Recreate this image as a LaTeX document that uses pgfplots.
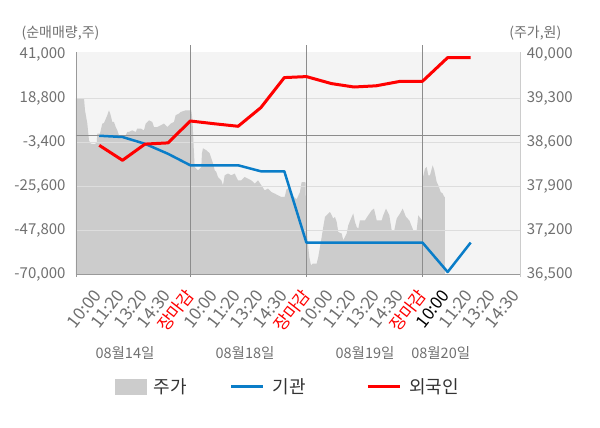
\documentclass[border=0pt]{standalone}
\usepackage{fontspec}
\setmainfont{Noto Sans CJK KR}
\usepackage{pgfplots}
\usepackage{pgfplotstable}
\pgfplotsset{compat=1.18}
\definecolor{bgc}{HTML}{F4F4F4}
\definecolor{areac}{HTML}{CCCCCC}
\definecolor{gridc}{HTML}{DDDDDD}
\definecolor{sepc}{HTML}{8C8C8C}
\definecolor{axc}{HTML}{999999}
\definecolor{rax}{HTML}{CCCCCC}
\definecolor{tickc}{HTML}{707070}
\definecolor{xtc}{HTML}{6E6E6E}
\definecolor{legc}{HTML}{333333}
\definecolor{bluec}{HTML}{0A7DC8}
\definecolor{redc}{HTML}{FF0000}

\pgfplotstableread{
x y
0.078 36500
0.078 39300
0.422 39300
0.465 39109
0.564 38902
0.637 38632
0.711 38579
0.853 38568
0.969 38589
0.995 38738
1.111 38738
1.210 38897
1.283 38907
1.426 39030
1.499 39109
1.572 39030
1.641 38923
1.714 38923
1.787 38843
1.856 38791
1.929 38711
2.218 38711
2.287 38764
2.360 38764
2.502 38791
2.649 38764
2.718 38818
2.864 38818
3.006 38791
3.079 38897
3.221 38950
3.363 38923
3.437 38843
3.579 38843
3.725 38870
3.867 38897
4.009 38843
4.156 38897
4.298 38923
4.371 39030
4.513 39057
4.587 39082
4.802 39109
5.043 39109
5.095 38950
5.138 38584
5.189 38207
5.332 38155
5.474 38207
5.504 38425
5.547 38505
5.689 38473
5.835 38425
5.978 38266
6.051 38155
6.120 38128
6.193 38048
6.335 37995
6.408 37916
6.482 38075
6.624 38102
6.766 38075
6.912 38102
7.054 37995
7.196 37995
7.343 38048
7.485 38022
7.627 37995
7.773 37943
7.916 37995
8.058 37916
8.204 37836
8.346 37863
8.488 37809
8.635 37784
8.777 37757
8.919 37730
9.066 37730
9.143 37852
9.294 37884
9.423 37741
9.582 37693
9.724 37809
9.797 37968
9.961 37968
9.991 37412
10.039 37093
10.125 36775
10.198 36643
10.271 36670
10.443 36670
10.512 36775
10.586 36934
10.659 37093
10.728 37253
10.801 37412
10.874 37439
11.016 37491
11.089 37439
11.158 37386
11.231 37412
11.305 37332
11.374 37173
11.520 37148
11.589 37041
11.736 37148
11.805 37280
11.951 37412
12.020 37466
12.093 37332
12.166 37253
12.235 37227
12.308 37359
12.524 37359
12.666 37439
12.813 37518
12.912 37545
13.028 37359
13.243 37359
13.312 37439
13.428 37545
13.570 37439
13.674 37200
13.786 37200
13.889 37386
14.031 37466
14.147 37545
14.289 37412
14.432 37359
14.604 37200
14.750 37200
14.819 37439
14.923 37386
14.979 37359
15.009 38022
15.108 38182
15.181 38207
15.250 38075
15.323 38075
15.439 38234
15.508 38155
15.612 37968
15.681 37916
15.784 37809
15.870 37784
15.939 37730
15.969 37730
15.969 36500
}\pricetable

\pgfplotstableread{
x y
1.08 -100
2.08 -730
3.05 -4160
4.04 -9200
5.0 -15000
6.05 -15000
7.06 -15000
8.04 -18030
9.05 -18030
10.0 -54000
11.08 -54000
12.05 -54000
13.0 -54000
14.05 -54000
15.0 -54000
16.085 -68840
17.076 -54000
}\bluetable

\pgfplotstableread{
x y
1.08 -4910
2.08 -12480
3.05 -4300
4.04 -3700
5.0 7350
6.05 5940
7.06 4680
8.04 14110
9.05 29250
10.0 29750
11.08 26220
12.05 24500
13.0 25100
14.05 27380
15.0 27380
16.085 39335
17.076 39335
}\redtable

\begin{document}
\begin{tikzpicture}
\path[use as bounding box] (-76pt,-153.7pt) rectangle (524pt,274.3pt);

\begin{axis}[
  at={(0,0)}, anchor=south west,
  scale only axis, width=444pt, height=222.6pt,
  xmin=0.078, xmax=19.2, ymin=36500, ymax=40041,
  axis background/.style={fill=bgc},
  axis x line=none,
  axis y line*=right,
  y axis line style={draw=rax, line width=0.8pt, -},
  scaled y ticks=false,
  ytick={36500,37200,37900,38600,39300,40000},
  yticklabels={{36,500},{37,200},{37,900},{38,600},{39,300},{40,000}},
  major tick length=0pt,
  /pgf/number format/assume math mode=true,
  yticklabel style={font=\fontsize{15}{15}\selectfont, text=tickc, anchor=west, inner sep=0pt, xshift=6.7pt},
  clip=false,
]
\addplot[fill=areac, draw=none] table[x=x, y=y] {\pricetable};
\end{axis}

\begin{axis}[
  at={(0,0)}, anchor=south west,
  scale only axis, width=444pt, height=222.6pt,
  xmin=0.078, xmax=19.2, ymin=-70000, ymax=42312,
  axis y line*=left, axis x line*=bottom,
  axis line style={draw=axc, line width=0.8pt, -},
  scaled y ticks=false, scaled x ticks=false,
  ytick={-47800,-25600,-3400,18800},
  yticklabels={{-47,800},{-25,600},{-3,400},{18,800}},
  extra y ticks={-70000,41000},
  extra y tick labels={{-70,000},{41,000}},
  extra y tick style={grid=none},
  ymajorgrids, grid style={draw=gridc, line width=0.8pt},
  xtick={1,2,3,4,5,6,7,8,9,10,11,12,13,14,15,16,17,18,19},
  xticklabels={10:00,11:20,13:20,14:30,\textcolor{redc}{장마감},10:00,11:20,13:20,14:30,\textcolor{redc}{장마감},10:00,11:20,13:20,14:30,\textcolor{redc}{장마감},\textcolor{black}{10:00},11:20,13:20,14:30},
  major tick length=0pt,
  /pgf/number format/assume math mode=true,
  xticklabel style={yshift=-17.5pt, xshift=0pt, rotate=52, anchor=east, inner sep=0pt, font=\fontsize{17}{17}\selectfont, text=xtc},
  yticklabel style={font=\fontsize{15}{15}\selectfont, text=tickc, anchor=east, inner sep=0pt, xshift=-10.3pt},
  clip=false,
  legend columns=3,
  legend style={at={(0.0863,-0.505)}, anchor=west, draw=none, fill=none, inner sep=0pt,
    font=\fontsize{18}{18}\selectfont, text=legc,
    nodes={inner sep=0pt},
    /tikz/every odd column/.append style={column sep=8pt},
    /tikz/column 2/.append style={column sep=43pt},
    /tikz/column 4/.append style={column sep=61pt}},
]
\addlegendimage{legend image code/.code={\fill[areac] (0pt,-7.3pt) rectangle (31pt,7.3pt);}}
\addlegendentry{주가}
\addplot[forget plot, draw=sepc, line width=0.9pt] coordinates {(0.078,0) (19.2,0)};
\draw[sepc, line width=0.9pt] (axis cs:5,-71360) -- (axis cs:5,45690);
\draw[sepc, line width=0.9pt] (axis cs:10,-71360) -- (axis cs:10,45690);
\draw[sepc, line width=0.9pt] (axis cs:15,-71360) -- (axis cs:15,45690);
\draw[axc, line width=0.8pt] (axis cs:0.078,-70000) -- (axis cs:0.078,-71360);
\draw[rax, line width=0.8pt] (axis cs:19.2,-70000) -- (axis cs:19.2,-71360);
\addplot[draw=bluec, line width=2.5pt, line join=round,
  legend image code/.code={\draw[bluec, line width=2.5pt] (0pt,0pt) -- (32pt,0pt);}] table[x=x, y=y] {\bluetable};
\addlegendentry{기관}
\addplot[draw=redc, line width=3pt, line join=round,
  legend image code/.code={\draw[redc, line width=2.5pt] (0pt,0pt) -- (32pt,0pt);}] table[x=x, y=y] {\redtable};
\addlegendentry{외국인}
\end{axis}

\node[font=\fontsize{14}{14}\selectfont, text=tickc] at (-15.5pt,241pt) {(순매매량,주)};
\node[font=\fontsize{14}{14}\selectfont, text=tickc] at (459.3pt,241pt) {(주가,원)};
\node[font=\fontsize{14.5}{14.5}\selectfont, text=tickc] at (49pt,-78.7pt) {08월14일};
\node[font=\fontsize{14.5}{14.5}\selectfont, text=tickc] at (169pt,-78.7pt) {08월18일};
\node[font=\fontsize{14.5}{14.5}\selectfont, text=tickc] at (289pt,-78.7pt) {08월19일};
\node[font=\fontsize{14.5}{14.5}\selectfont, text=tickc] at (364.7pt,-78.7pt) {08월20일};
\end{tikzpicture}
\end{document}
